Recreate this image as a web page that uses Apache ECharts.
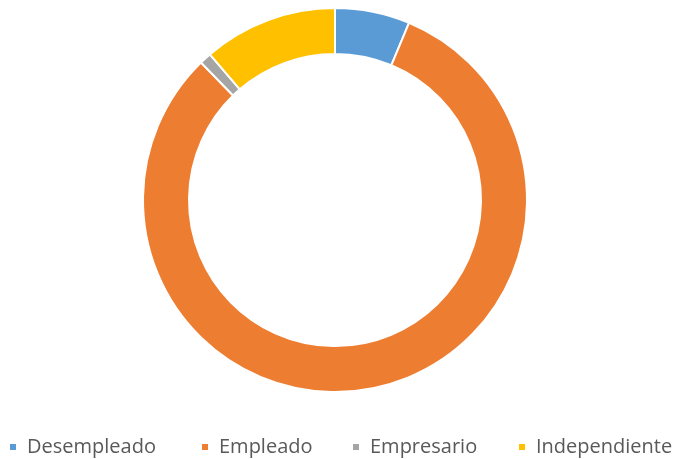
<!DOCTYPE html>
<html>
<head>
<meta charset="utf-8">
<script src="https://cdn.jsdelivr.net/npm/echarts@6/dist/echarts.min.js"></script>
<style>
  html, body { margin: 0; padding: 0; background: #fff; }
  #chart { width: 677px; height: 459px; }
</style>
</head>
<body>
<div id="chart"></div>
<script>
  // categorias y valores (porcentaje)
  const categories = ['Desempleado', 'Empleado', 'Empresario', 'Independiente'];
  const values = [6.3, 81.4, 1.0, 11.3];
  const colors = ['#5B9BD5', '#ED7D31', '#A5A5A5', '#FFC000'];

  // posicion x de cada entrada de la leyenda
  const legendLeft = [8, 200, 351, 517];

  const chart = echarts.init(document.getElementById('chart'));
  const option = {
    animation: false,
    color: colors,
    legend: categories.map((name, i) => ({
      data: [name],
      left: legendLeft[i],
      top: 436,
      padding: 0,
      itemWidth: 8,
      itemHeight: 8,
      icon: 'rect',
      textStyle: {
        fontFamily: 'Open Sans',
        fontSize: 20,
        color: '#595959',
        lineHeight: 22,
        padding: [0, 0, 0, 5]
      }
    })),
    series: [
      {
        type: 'pie',
        center: [335, 200],
        radius: [146, 192],
        startAngle: 90,
        clockwise: true,
        label: { show: false },
        labelLine: { show: false },
        emphasis: { disabled: true },
        itemStyle: {
          borderColor: '#fff',
          borderWidth: 2
        },
        data: categories.map((name, i) => ({ name: name, value: values[i] }))
      }
    ]
  };
  chart.setOption(option);
</script>
</body>
</html>
